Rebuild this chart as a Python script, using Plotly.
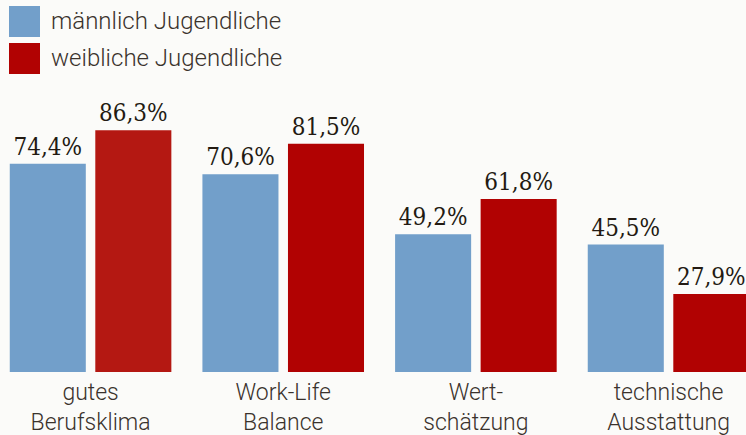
import plotly.graph_objects as go

categories = ["gutes<br>Berufsklima", "Work-Life<br>Balance", "Wert-<br>schätzung", "technische<br>Ausstattung"]
male_values = [74.4, 70.6, 49.2, 45.5]
female_values = [86.3, 81.5, 61.8, 27.9]
male_labels = ["74,4%", "70,6%", "49,2%", "45,5%"]
female_labels = ["86,3%", "81,5%", "61,8%", "27,9%"]
series_names = ["männlich Jugendliche", "weibliche Jugendliche"]

BLUE = "#729fca"
RED = "#b10202"
female_colors = ["#b41812", RED, RED, RED]
TEXT = "#231a12"
LABEL = "#3a322c"
BG = "#fbfbf9"
VALUE_FONT = dict(family="DejaVu Serif Condensed, DejaVu Serif", size=24, color=TEXT)

fig = go.Figure()
fig.add_trace(go.Bar(
    x=categories, y=male_values, name=series_names[0],
    marker=dict(color=BLUE, line=dict(width=0)),
    text=male_labels, textposition="outside", cliponaxis=False,
    textfont=VALUE_FONT,
))
fig.add_trace(go.Bar(
    x=categories, y=female_values, name=series_names[1],
    marker=dict(color=female_colors, line=dict(width=0)),
    text=female_labels, textposition="outside", cliponaxis=False,
    textfont=VALUE_FONT,
))

# custom legend (large square swatches)
legend_colors = [BLUE, RED]
for i, (name, col) in enumerate(zip(series_names, legend_colors)):
    y0 = 6 + i * 37
    fig.add_shape(type="rect", xref="paper", yref="paper",
                  x0=9 / 746, x1=40 / 746,
                  y0=1 - (y0 + 31) / 372, y1=1 - y0 / 372,
                  fillcolor=col, line=dict(width=0), layer="above")
    fig.add_annotation(xref="paper", yref="paper", x=49 / 746, y=1 - (y0 + 15.5) / 372,
                       text=name, showarrow=False, xanchor="left", yanchor="middle",
                       font=dict(family="Roboto", size=24, weight=300, color=LABEL))

fig.update_layout(
    width=746, height=435,
    margin=dict(l=0, r=0, t=0, b=63),
    paper_bgcolor=BG, plot_bgcolor=BG,
    barmode="group", bargap=0.112, bargroupgap=0.111,
    showlegend=False,
    xaxis=dict(range=[-0.47, 3.402], showgrid=False, zeroline=False, showline=False,
               ticks="", ticklabelstandoff=4,
               tickfont=dict(family="Roboto", size=23, weight=300, color=LABEL)),
    yaxis=dict(range=[0, 132.86], visible=False, showgrid=False, zeroline=False),
)

fig.write_html("out.html", config={"displayModeBar": False},
               post_script="document.body.style.margin='0';document.body.style.background='#fbfbf9';")
